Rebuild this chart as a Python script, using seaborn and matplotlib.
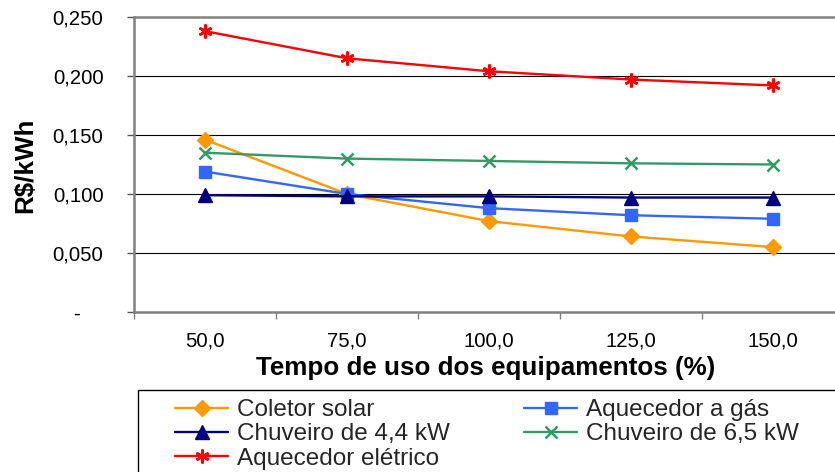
import numpy as np
import pandas as pd
import matplotlib
matplotlib.use("Agg")
import matplotlib.pyplot as plt
from matplotlib.lines import Line2D
from matplotlib.patches import Rectangle
import seaborn as sns

# Categories (usage time, %) and cost per kWh for each heating option
tempo = ["50,0", "75,0", "100,0", "125,0", "150,0"]
coletor_solar = [0.146, 0.100, 0.077, 0.064, 0.055]
aquecedor_gas = [0.119, 0.100, 0.088, 0.082, 0.079]
chuveiro_44 = [0.099, 0.098, 0.098, 0.097, 0.097]
chuveiro_65 = [0.135, 0.130, 0.128, 0.126, 0.125]
aquecedor_eletrico = [0.238, 0.215, 0.204, 0.197, 0.192]

series_names = ["Coletor solar", "Aquecedor a gás", "Chuveiro de 4,4 kW",
                "Chuveiro de 6,5 kW", "Aquecedor elétrico"]
series_values = [coletor_solar, aquecedor_gas, chuveiro_44, chuveiro_65,
                 aquecedor_eletrico]

y_ticks = [0.0, 0.05, 0.10, 0.15, 0.20, 0.25]
# accounting-style zero: the dash is padded away from the axis
y_tick_labels = ["-    ", "0,050", "0,100", "0,150", "0,200", "0,250"]

colors = {
    "Coletor solar": "#FF9900",
    "Aquecedor a gás": "#3366FF",
    "Chuveiro de 4,4 kW": "#000080",
    "Chuveiro de 6,5 kW": "#339966",
    "Aquecedor elétrico": "#FF0000",
}
markers = {
    "Coletor solar": "D",
    "Aquecedor a gás": "s",
    "Chuveiro de 4,4 kW": "^",
    "Chuveiro de 6,5 kW": "x",
    "Aquecedor elétrico": (6, 2, 0),
}
msizes = {
    "Coletor solar": 8,
    "Aquecedor a gás": 8.5,
    "Chuveiro de 4,4 kW": 10,
    "Chuveiro de 6,5 kW": 9,
    "Aquecedor elétrico": 10,
}
mews = {
    "Coletor solar": 1,
    "Aquecedor a gás": 1,
    "Chuveiro de 4,4 kW": 1,
    "Chuveiro de 6,5 kW": 1.8,
    "Aquecedor elétrico": 1.8,
}

sns.set_theme(style="white")
plt.rcParams["font.family"] = ["Liberation Sans", "DejaVu Sans"]

fig = plt.figure(figsize=(8.35, 4.72), dpi=100)
W, H = 835, 472
ax = fig.add_axes([134 / W, 1 - 312 / H, 710 / W, 295 / H])

for name, vals in zip(series_names, series_values):
    df = pd.DataFrame({"tempo": tempo, "valor": vals})
    sns.lineplot(data=df, x="tempo", y="valor", ax=ax, color=colors[name],
                 marker=markers[name], markersize=msizes[name],
                 markeredgewidth=mews[name], markeredgecolor=colors[name],
                 linewidth=1.7, sort=False, legend=False)

ax.set_xlim(-0.5, 4.5)
ax.set_ylim(0, 0.25)

# Major x ticks mark category boundaries; labels sit on minor ticks
ax.set_xticks(np.arange(-0.5, 5.0, 1.0))
ax.set_xticklabels([])
ax.set_xticks(range(len(tempo)), labels=tempo, minor=True)
ax.tick_params(axis="x", which="major", length=5, width=1, color="#808080",
               direction="out", bottom=True)
ax.tick_params(axis="x", which="minor", length=0, pad=14, labelsize=14.6,
               labelcolor="black")

ax.set_yticks(y_ticks, labels=y_tick_labels)
ax.tick_params(axis="y", length=5, width=1, color="#555555", direction="out",
               left=True, pad=17, labelsize=14.6, labelcolor="black")
for lbl in ax.get_yticklabels():
    lbl.set_horizontalalignment("right")

ax.grid(False)
for y in y_ticks[1:-1]:
    ax.axhline(y, color="black", linewidth=0.8, zorder=0)

for side in ["top", "left", "bottom", "right"]:
    ax.spines[side].set_visible(True)
    ax.spines[side].set_color("#808080")
    ax.spines[side].set_linewidth(1.8)

ax.set_xlabel("Tempo de uso dos equipamentos (%)", fontsize=18.7,
              fontweight="bold", color="black")
ax.set_ylabel("R$/kWh", fontsize=18.7, fontweight="bold", color="black")
ax.xaxis.label.set_va("center")
ax.yaxis.label.set_va("center")
ax.xaxis.set_label_coords((486 - 134) / 710, (312 - 368) / 295)
ax.yaxis.set_label_coords((25 - 134) / 710, (312 - 165) / 295)

# Legend, filled column by column to read across in rows
order = ["Coletor solar", "Chuveiro de 4,4 kW", "Aquecedor elétrico",
         "Aquecedor a gás", "Chuveiro de 6,5 kW"]
handles = [Line2D([], [], color=colors[n], marker=markers[n],
                  markersize=msizes[n], markeredgewidth=mews[n],
                  markeredgecolor=colors[n], linewidth=1.7) for n in order]
fig.legend(handles, order, loc="upper left",
           bbox_to_anchor=(175 / W, 1 - 399 / H), frameon=False,
           ncol=2, fontsize=17.5, handlelength=2.2, handletextpad=0.35,
           columnspacing=3.05, labelspacing=0.1, borderpad=0,
           borderaxespad=0)
fig.patches.append(Rectangle((138 / W, -0.05), 1.0, (1 - 390 / H) + 0.05,
                             transform=fig.transFigure, fill=False,
                             edgecolor="black", linewidth=1.0))

fig.savefig("out.png", dpi=100)
